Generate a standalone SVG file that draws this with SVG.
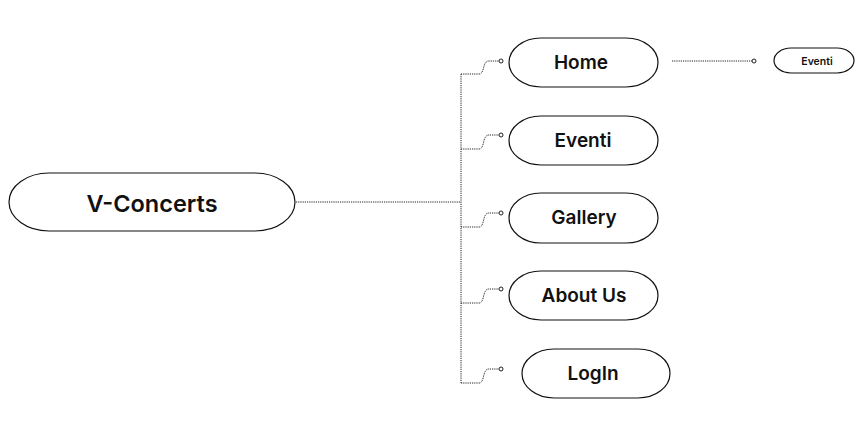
<svg xmlns="http://www.w3.org/2000/svg" width="860" height="422" viewBox="0 0 860 422">
<style>
.node{fill:#fff;stroke:#111;stroke-width:1.2}
.t{font-family:Inter,"Liberation Sans",sans-serif;font-weight:600;fill:#111;text-anchor:middle;dominant-baseline:central}
.c{fill:none;stroke:#222;stroke-width:1;stroke-dasharray:1.2 1}
.dot{fill:#fff;stroke:#222;stroke-width:1}
</style>
<rect width="860" height="422" fill="#fff"/>
<g id="connectors">
<path class="c" d="M296,202 H461"/>
<path class="c" d="M461,74 V383"/>
<path class="c" d="M461,74 H479 C485,74 482,61 489,61 H499"/>
<circle class="dot" cx="501" cy="61" r="2"/>
<path class="c" d="M461,149 H479 C485,149 482,135 489,135 H499"/>
<circle class="dot" cx="501" cy="135" r="2"/>
<path class="c" d="M461,227 H479 C485,227 482,213 489,213 H499"/>
<circle class="dot" cx="501" cy="213" r="2"/>
<path class="c" d="M461,303 H479 C485,303 482,289 489,289 H499"/>
<circle class="dot" cx="501" cy="289" r="2"/>
<path class="c" d="M461,383 H479 C485,383 482,369 489,369 H499"/>
<circle class="dot" cx="501" cy="369" r="2"/>
<path class="c" d="M672,61 H752" stroke-dasharray="2.5 1"/>
<circle class="dot" cx="754" cy="61" r="2"/>
</g>
<g id="n-vconcerts">
<rect class="node" x="9" y="173" width="286" height="58" rx="40" ry="29"/>
<text class="t" x="152" y="203" font-size="23.5">V-Concerts</text>
</g>
<g id="n-home">
<rect class="node" x="509" y="38" width="149" height="49" rx="32" ry="24.5"/>
<text class="t" x="581" y="62" font-size="19">Home</text>
</g>
<g id="n-eventi">
<rect class="node" x="509" y="116" width="149" height="49" rx="32" ry="24.5"/>
<text class="t" x="583" y="140" font-size="19">Eventi</text>
</g>
<g id="n-gallery">
<rect class="node" x="509" y="193" width="149" height="50" rx="32" ry="25"/>
<text class="t" x="584" y="217" font-size="19">Gallery</text>
</g>
<g id="n-aboutus">
<rect class="node" x="509" y="271" width="149" height="49" rx="32" ry="24.5"/>
<text class="t" x="584" y="295" font-size="19">About Us</text>
</g>
<g id="n-login">
<rect class="node" x="522" y="349" width="148" height="49" rx="32" ry="24.5"/>
<text class="t" x="593" y="373" font-size="19">LogIn</text>
</g>
<g id="n-eventi-sub">
<rect class="node" x="774" y="48" width="80" height="25" rx="17" ry="12.5"/>
<text class="t" x="817" y="61" font-size="10.5">Eventi</text>
</g>
</svg>
